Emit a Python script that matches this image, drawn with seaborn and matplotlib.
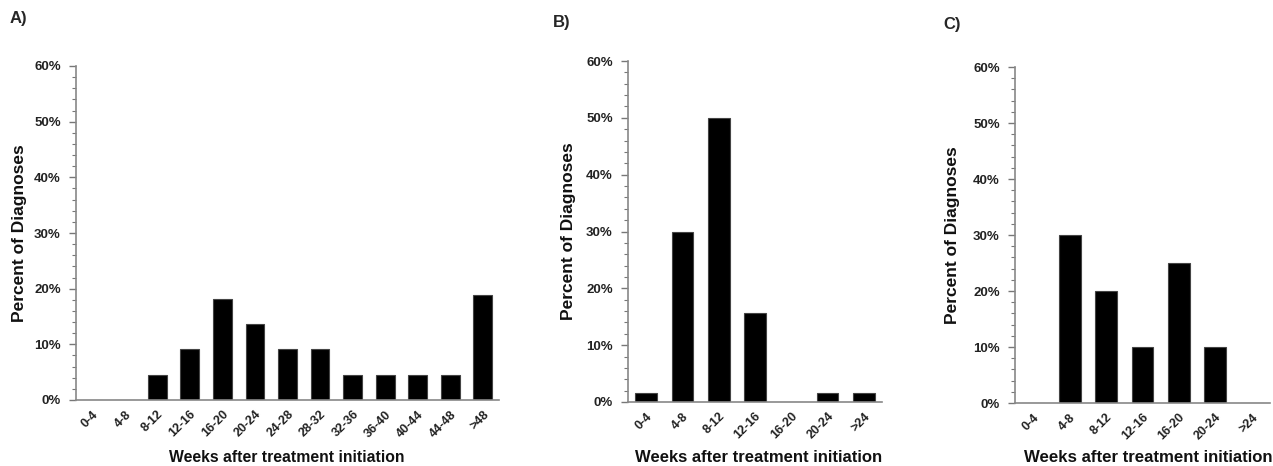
import matplotlib
matplotlib.use("Agg")
import matplotlib.pyplot as plt
import seaborn as sns
import pandas as pd
from matplotlib.ticker import MultipleLocator, PercentFormatter

# Panel A: weekly bins up to >48
cats_a = ['0-4', '4-8', '8-12', '12-16', '16-20', '20-24', '24-28',
          '28-32', '32-36', '36-40', '40-44', '44-48', '>48']
vals_a = [0, 0, 4.5, 9.1, 18.2, 13.6, 9.1, 9.1, 4.5, 4.5, 4.5, 4.5, 18.8]

# Panels B and C: bins up to >24
cats_bc = ['0-4', '4-8', '8-12', '12-16', '16-20', '20-24', '>24']
vals_b = [1.5, 29.9, 50.0, 15.7, 0, 1.5, 1.5]
vals_c = [0, 30, 20, 10, 25, 10, 0]

sns.set_style('ticks')
plt.rcParams['font.family'] = ['Liberation Sans', 'DejaVu Sans']

W, H = 1273, 466
fig = plt.figure(figsize=(W / 100, H / 100), dpi=100)


def px_axes(x0, y0, x1, y1):
    # pixel box (left, top, right, bottom) -> figure fraction
    return fig.add_axes([x0 / W, 1 - y1 / H, (x1 - x0) / W, (y1 - y0) / H])


panels = [
    ('A)', cats_a, vals_a, (76, 66, 499, 400), (10, 18), 20, 0.58, 287, 11.3),
    ('B)', cats_bc, vals_b, (628, 61, 882, 402), (553, 22), 568, 0.6, 759, 12.0),
    ('C)', cats_bc, vals_c, (1015, 67, 1270, 403), (943, 25), 952, 0.6, 1148, 12.1),
]

for tag, cats, vals, box, tag_xy, ylab_x, bw, xlab_x, xlab_fs in panels:
    ax = px_axes(*box)
    df = pd.DataFrame({'bin': cats, 'pct': vals})
    sns.barplot(data=df, x='bin', y='pct', ax=ax, color='black',
                edgecolor='#444444', linewidth=0.8, width=bw, saturation=1)
    ax.set_xlim(-0.5, len(cats) - 0.5)
    ax.set_ylim(0, 60)
    ax.yaxis.set_major_locator(MultipleLocator(10))
    ax.yaxis.set_minor_locator(MultipleLocator(2))
    ax.yaxis.set_major_formatter(PercentFormatter(decimals=0))
    ax.tick_params(axis='y', which='major', length=5, width=1, color='#777777',
                   labelsize=9.5, labelcolor='#222222', pad=6)
    ax.tick_params(axis='y', which='minor', length=3, width=0.8, color='#777777')
    ax.tick_params(axis='x', length=0, labelsize=9, labelcolor='#222222', pad=6)
    for lab in ax.get_yticklabels():
        lab.set_fontweight('bold')
    for lab in ax.get_xticklabels():
        lab.set_fontweight('bold')
        lab.set_rotation(45)
        lab.set_ha('right')
        lab.set_rotation_mode('anchor')
    sns.despine(ax=ax)
    for s in ('left', 'bottom'):
        ax.spines[s].set_color('#888888')
        ax.spines[s].set_linewidth(1.2)
    ax.set_xlabel('')
    ax.set_ylabel('')
    fig.text(tag_xy[0] / W, 1 - tag_xy[1] / H, tag, fontsize=12,
             fontweight='bold', ha='left', va='center')
    fig.text(ylab_x / W, 1 - ((box[1] + box[3]) / 2) / H, 'Percent of Diagnoses',
             fontsize=12.5, fontweight='bold', rotation=90, ha='center', va='center',
             color='#111111')
    fig.text(xlab_x / W, 1 - 457 / H,
             'Weeks after treatment initiation', fontsize=xlab_fs, fontweight='bold',
             ha='center', va='center', color='#111111')

fig.savefig('out.png', dpi=100, facecolor='white')
